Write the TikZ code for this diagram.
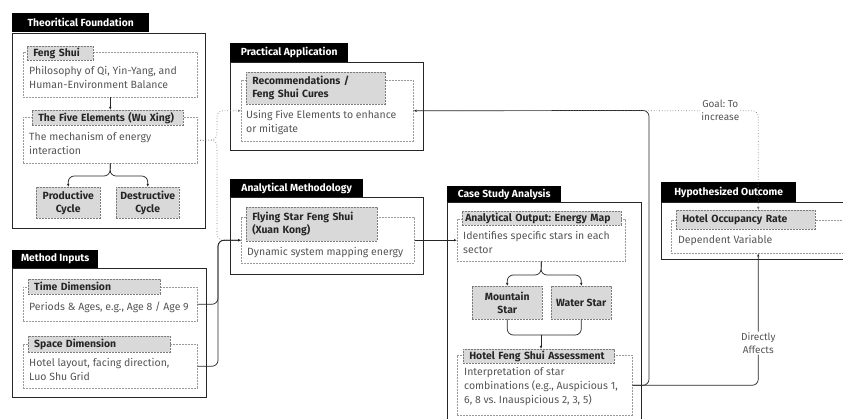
\documentclass[tikz,border=0pt]{standalone}
\usepackage{fontspec}
\setmainfont{Fira Sans}
\usetikzlibrary{arrows.meta,positioning,calc}

\definecolor{boxGrey}{HTML}{D9D9D9}
\definecolor{lineGrey}{HTML}{9A9A9A}
\definecolor{txtGrey}{HTML}{555555}

\tikzset{
  tabhead/.style={fill=black, text=white, font=\bfseries\fontsize{10.3}{12}\selectfont, anchor=north west, inner sep=0pt, minimum height=19pt},
  groupbox/.style={draw=black!85, line width=1.3pt, anchor=north west, inner sep=0pt},
  contentbox/.style={draw=lineGrey, dash pattern=on 2pt off 1pt, line width=0.5pt, anchor=north west, inner sep=0pt},
  headbox/.style={fill=boxGrey, draw=lineGrey!80!black, dash pattern=on 2pt off 1pt, line width=0.5pt, anchor=north west, font=\bfseries\fontsize{10.4}{13}\selectfont, text=black!85, align=left, inner xsep=6pt, inner ysep=0pt},
  cyclebox/.style={fill=boxGrey, draw=lineGrey!80!black, dash pattern=on 2pt off 1pt, line width=0.5pt, anchor=north west, font=\bfseries\fontsize{10.4}{13.5}\selectfont, text=black!85, align=center, inner sep=0pt},
  bodytext/.style={text=txtGrey, font=\fontsize{10.5}{14}\selectfont, align=left, anchor=north west, inner sep=0pt},
  flowline/.style={line width=0.7pt, black!85, rounded corners=6pt},
  flow/.style={flowline, -{Latex[length=3pt,width=2.5pt]}},
  hint/.style={-{Latex[length=3pt,width=2.5pt]}, line width=0.7pt, dotted, lineGrey!80!black, rounded corners=6pt},
  edgelabel/.style={fill=white, text=txtGrey, font=\fontsize{10}{13}\selectfont, align=center, inner sep=1pt}
}
\frenchspacing

\begin{document}
\begin{tikzpicture}[x=1pt, y=-1pt]
  \useasboundingbox (0,0) rectangle (843,419);
  \clip (0,0) rectangle (843,419);

  % theoritical foundation
  \node[tabhead, minimum width=137pt] (thTab) at (12,13) {Theoritical Foundation};
  \node[groupbox, minimum width=193pt, minimum height=195pt] (thBox) at (12,33) {};
  \node[contentbox, minimum width=174pt, minimum height=45pt] (fsC) at (23,52) {};
  \node[headbox, text width=54pt, minimum height=14pt] (fsH) at (27,46) {Feng Shui};
  \node[bodytext] (fsT) at (29,66) {Philosophy of Qi, Yin-Yang, and\\Human-Environment Balance};
  \node[contentbox, minimum width=174pt, minimum height=46pt] (feC) at (23,117) {};
  \node[headbox, text width=139pt, minimum height=15pt] (feH) at (32,110) {The Five Elements (Wu Xing)};
  \node[bodytext] (feT) at (29,132) {The mechanism of energy\\interaction};
  \node[cyclebox, minimum width=64pt, minimum height=31pt] (prod) at (36,187) {Productive\\Cycle};
  \node[cyclebox, minimum width=63pt, minimum height=31pt] (dest) at (116,187) {Destructive\\Cycle};

  % method inputs
  \node[tabhead, minimum width=86pt, minimum height=18pt] (miTab) at (12,250) {Method Inputs};
  \node[groupbox, minimum width=194pt, minimum height=129pt] (miBox) at (12,268) {};
  \node[contentbox, minimum width=174pt, minimum height=34pt] (tdC) at (23,287) {};
  \node[headbox, text width=120pt, minimum height=15pt] (tdH) at (28,279) {Time Dimension};
  \node[bodytext] (tdT) at (29,302) {Periods \& Ages, e.g., Age 8 / Age 9};
  \node[contentbox, minimum width=174pt, minimum height=44pt] (sdC) at (23,344) {};
  \node[headbox, text width=130pt, minimum height=16pt] (sdH) at (28,336) {Space Dimension};
  \node[bodytext] (sdT) at (29,358) {Hotel layout, facing direction,\\Luo Shu Grid};

  % practical application
  \node[tabhead, minimum width=118pt] (paTab) at (230,43) {Practical Application};
  \node[groupbox, minimum width=193pt, minimum height=88pt] (paBox) at (230,62) {};
  \node[contentbox, minimum width=172pt, minimum height=61pt] (rcC) at (241,80) {};
  \node[headbox, text width=127pt, minimum height=32pt] (rcH) at (246,72) {Recommendations /\\Feng Shui Cures};
  \node[bodytext] (rcT) at (246,110) {Using Five Elements to enhance\\or mitigate};

  % analytical methodology
  \node[tabhead, minimum width=133pt, minimum height=18pt] (amTab) at (230,179) {Analytical Methodology};
  \node[groupbox, minimum width=193pt, minimum height=77pt] (amBox) at (230,197) {};
  \node[contentbox, minimum width=173pt, minimum height=46pt] (xkC) at (241,217) {};
  \node[headbox, text width=119pt, minimum height=34pt] (xkH) at (246,207) {Flying Star Feng Shui\\(Xuan Kong)};
  \node[bodytext] (xkT) at (247,247) {Dynamic system mapping energy};

  % case study analysis
  \node[tabhead, minimum width=114pt, minimum height=16pt] (csTab) at (447,186) {Case Study Analysis};
  \node[groupbox, minimum width=194pt, minimum height=230pt] (csBox) at (447,202) {};
  \node[contentbox, minimum width=168pt, minimum height=42pt] (emC) at (457,219) {};
  \node[headbox, text width=153pt, inner xsep=3pt, minimum height=14pt] (emH) at (462,211) {Analytical Output: Energy Map};
  \node[bodytext] (emT) at (463,231) {Identifies specific stars in each\\sector};
  \node[cyclebox, minimum width=70pt, minimum height=33pt] (mtn) at (472,286) {Mountain\\Star};
  \node[cyclebox, minimum width=60pt, minimum height=33pt] (wat) at (551,286) {Water Star};
  \node[contentbox, minimum width=175pt, minimum height=60pt] (haC) at (457,355) {};
  \node[headbox, text width=139pt, minimum height=14pt] (haH) at (463,349) {Hotel Feng Shui Assessment};
  \node[bodytext] (haT) at (464,367) {Interpretation of star\\combinations (e.g., Auspicious 1,\\6, 8 vs. Inauspicious 2, 3, 5)};

  % hypothesized outcome
  \node[tabhead, minimum width=135pt, minimum height=20pt] (hoTab) at (661,182) {Hypothesized Outcome};
  \node[groupbox, minimum width=190pt, minimum height=57pt] (hoBox) at (661,202) {};
  \node[contentbox, minimum width=174pt, minimum height=33pt] (ocC) at (671,220) {};
  \node[headbox, text width=127pt, minimum height=19pt] (ocH) at (676,210) {Hotel Occupancy Rate};
  \node[bodytext] (ocT) at (678,235) {Dependent Variable};

  % bend points
  \coordinate (feSplit) at (110,176);
  \coordinate (feBrace) at (217,140);
  \coordinate (miJoin) at (218,300);
  \coordinate (emSplit) at (541,275);
  \coordinate (starJoin) at (541,335);
  \coordinate (fbTurn) at (649,110.5);

  % connectors
  \draw[flow] (fsC.south) -- (fsC.south |- feH.north);
  \draw[flow] (feC.south) -- (feSplit) -| (prod.north);
  \draw[flow] (feC.south) -- (feSplit) -| (dest.north);
  \draw[hint] (feC.east) -- (feBrace) |- (rcC.west);
  \draw[hint] (feC.east) -- (feBrace) |- (xkC.west);
  \draw[flow] (tdC.east) -- (tdC.east -| miJoin) |- (xkC.west);
  \draw[flow] (sdC.east) -- (sdC.east -| miJoin) |- (xkC.west);
  \draw[flow] (xkC.east) -- (emC.west);
  \draw[flow] (emC.south) -- (emSplit) -| (mtn.north);
  \draw[flow] (emC.south) -- (emSplit) -| (wat.north);
  \draw[flowline] (mtn.south) |- (starJoin) -| (wat.south);
  \draw[flow] (starJoin) -- (starJoin |- haH.north);
  \draw[flow] (haC.east) -| (fbTurn) -- (rcC.east);
  \draw[flow] (haC.east) -| node[pos=0.66, edgelabel] (daLbl) {Directly\\Affects} (ocC.south);
  \draw[hint] (rcC.east) -| node[pos=0.445, edgelabel] (goalLbl) {Goal: To\\increase} (ocC.north |- ocH.north);
\end{tikzpicture}
\end{document}
